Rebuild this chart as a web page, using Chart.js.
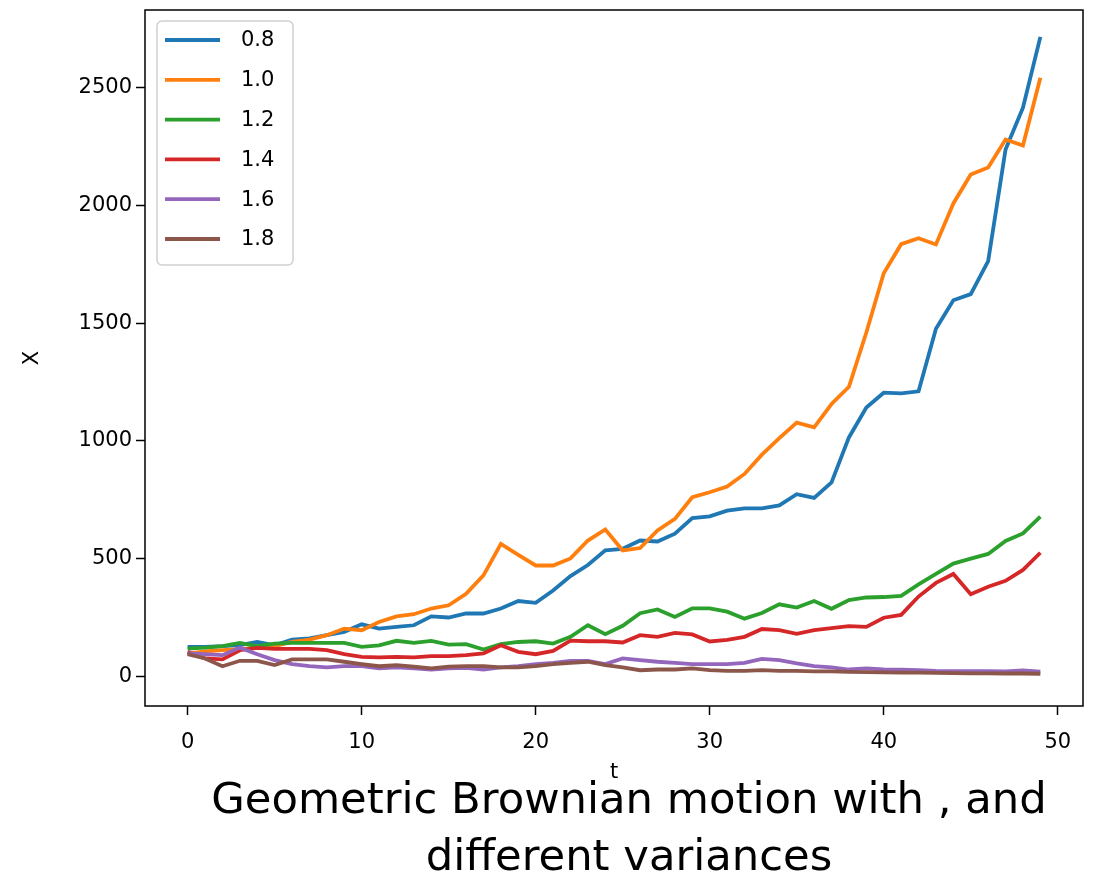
<!DOCTYPE html>
<html>
<head>
<meta charset="utf-8">
<script src="https://cdn.jsdelivr.net/npm/chart.js@4"></script>
<style>
  body { margin: 0; background: #fff; }
  #wrap { position: relative; width: 1094px; height: 874px; overflow: hidden; }
  #caption {
    position: absolute; left: 0; top: 770px; width: 1258px;
    text-align: center; font-family: 'DejaVu Sans', sans-serif;
    font-size: 43.3px; line-height: 57px; color: #000;
  }
</style>
</head>
<body>
<div id="wrap">
  <canvas id="gbm" width="1094" height="874"></canvas>
  <div id="caption">Geometric Brownian motion with , and<br>different variances</div>
</div>
<script>
const tValues = [0,1,2,3,4,5,6,7,8,9,10,11,12,13,14,15,16,17,18,19,20,21,22,23,24,25,26,27,28,29,30,31,32,33,34,35,36,37,38,39,40,41,42,43,44,45,46,47,48,49];
const seriesLabels = ['0.8', '1.0', '1.2', '1.4', '1.6', '1.8'];
const seriesColors = ['#1f77b4', '#ff7f0e', '#2ca02c', '#d62728', '#9467bd', '#8c564b'];

const x08 = [124,124,127,132,145,131,155,160,174,188,220,202,209,216,254,249,266,266,287,319,311,364,425,472,534,541,576,572,605,671,679,703,713,713,725,773,757,823,1014,1141,1204,1201,1210,1476,1597,1623,1763,2237,2415,2716];
const x10 = [95,105,110,115,120,127,145,155,174,202,195,230,254,263,287,301,350,428,562,515,470,470,500,576,623,534,544,619,668,760,781,805,859,941,1011,1077,1057,1156,1229,1460,1712,1835,1860,1834,2008,2131,2161,2280,2254,2542];
const x12 = [117,121,127,141,127,138,141,141,141,141,124,131,150,141,150,134,136,113,136,145,148,138,167,216,178,214,267,283,251,288,288,274,244,268,305,291,319,286,323,334,336,341,390,434,478,499,519,574,606,678];
const x14 = [103,75,71,110,120,116,116,116,110,93,82,80,82,80,85,85,89,96,131,103,93,107,151,148,148,143,174,167,184,177,147,154,167,200,195,180,195,204,212,209,248,260,338,396,434,348,380,405,451,524];
const x16 = [96,93,89,121,93,68,51,42,37,42,42,33,37,33,28,33,35,28,37,42,51,56,65,65,51,75,68,61,56,51,51,51,56,73,68,54,42,37,28,33,28,27,25,22,21,21,21,20,24,19];
const x18 = [93,75,42,65,65,47,71,71,71,61,51,42,47,40,33,40,42,42,37,37,42,51,56,61,47,37,25,28,28,33,25,22,22,25,22,22,20,20,18,17,16,15,15,14,13,12,12,11,11,10];

const xTicks = [0, 10, 20, 30, 40, 50];
const yTicks = [0, 500, 1000, 1500, 2000, 2500];

const allSeries = [x08, x10, x12, x14, x16, x18];
const font = { family: 'DejaVu Sans', size: 21 };

const framePlugin = {
  id: 'frame',
  afterDatasetsDraw(chart) {
    const { ctx, chartArea: a } = chart;
    ctx.save();
    ctx.strokeStyle = '#000';
    ctx.lineWidth = 1.5;
    ctx.strokeRect(a.left, a.top, a.right - a.left, a.bottom - a.top);
    ctx.restore();
  }
};

const legendPlugin = {
  id: 'boxLegend',
  afterDraw(chart) {
    const { ctx, chartArea: a } = chart;
    const x = a.left + 12, y = a.top + 11, w = 136, h = 244, r = 5;
    ctx.save();
    ctx.beginPath();
    ctx.roundRect(x, y, w, h, r);
    ctx.fillStyle = 'rgba(255,255,255,0.8)';
    ctx.fill();
    ctx.strokeStyle = '#d0d0d0';
    ctx.lineWidth = 1.5;
    ctx.stroke();
    ctx.font = '21px "DejaVu Sans"';
    ctx.textBaseline = 'middle';
    ctx.fillStyle = '#000';
    chart.data.datasets.forEach((ds, i) => {
      const ly = y + 19 + i * 39.8;
      ctx.beginPath();
      ctx.moveTo(x + 8, ly);
      ctx.lineTo(x + 63, ly);
      ctx.strokeStyle = ds.borderColor;
      ctx.lineWidth = 3.8;
      ctx.stroke();
      ctx.fillText(ds.label, x + 84, ly + 1);
    });
    ctx.restore();
  }
};

const ctx = document.getElementById('gbm').getContext('2d');
const chart = new Chart(ctx, {
  type: 'line',
  data: {
    datasets: allSeries.map((s, i) => ({
      label: seriesLabels[i],
      data: tValues.map((t, j) => ({ x: t, y: s[j] })),
      borderColor: seriesColors[i],
      backgroundColor: seriesColors[i],
      borderWidth: 3.8,
      pointRadius: 0,
      tension: 0,
      fill: false,
      order: allSeries.length - i
    }))
  },
  options: {
    responsive: false,
    animation: false,
    layout: { padding: { left: 10, right: 11, top: 10, bottom: 84 } },
    plugins: { legend: { display: false }, tooltip: { enabled: false } },
    scales: {
      x: {
        type: 'linear',
        min: -2.45,
        max: 51.45,
        afterBuildTicks(scale) { scale.ticks = xTicks.map(v => ({ value: v })); },
        afterFit(scale) {
          scale.height = 84;
          scale.paddingLeft = 0;
          scale.paddingRight = 0;
        },
        grid: { drawOnChartArea: false, drawTicks: true, tickLength: 9, tickColor: '#000', tickWidth: 1.5 },
        border: { display: false },
        ticks: { font, color: '#000', padding: 15, maxRotation: 0, callback: v => String(v) },
        title: { display: true, text: 't', font, color: '#000', padding: { top: 0, bottom: 5 } }
      },
      y: {
        min: -127,
        max: 2830,
        afterBuildTicks(scale) { scale.ticks = yTicks.map(v => ({ value: v })); },
        afterFit(scale) {
          scale.width = 135;
          scale.paddingTop = 0;
          scale.paddingBottom = 0;
        },
        grid: { drawOnChartArea: false, drawTicks: true, tickLength: 9, tickColor: '#000', tickWidth: 1.5 },
        border: { display: false },
        ticks: { font, color: '#000', padding: 4, callback: v => String(v) },
        title: { display: true, text: 'X', font, color: '#000', padding: { top: 10, bottom: 0 } }
      }
    }
  },
  plugins: [framePlugin, legendPlugin]
});
</script>
</body>
</html>
